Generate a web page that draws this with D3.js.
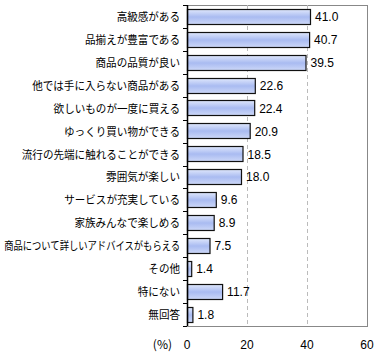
<!DOCTYPE html>
<html><head><meta charset="utf-8">
<script src="https://cdn.jsdelivr.net/npm/d3@7"></script>
<style>body{margin:0;background:#fff;}svg{display:block;}</style>
</head><body>
<svg id="chart" width="377" height="355"></svg>
<script>
const categories = ["高級感がある","品揃えが豊富である","商品の品質が良い","他では手に入らない商品がある","欲しいものが一度に買える","ゆっくり買い物ができる","流行の先端に触れることができる","雰囲気が楽しい","サービスが充実している","家族みんなで楽しめる","商品について詳しいアドバイスがもらえる","その他","特にない","無回答"];
const values = [41.0,40.7,39.5,22.6,22.4,20.9,18.5,18.0,9.6,8.9,7.5,1.4,11.7,1.8];
const xTicks = [0,20,40,60];
const unitLabel = "(%)";

(function(){
const svg = d3.select("#chart");
const pl = 187, pr = 367, pt = 5, pb = 326;
const x = d3.scaleLinear().domain([0,60]).range([pl,pr]);
const y = d3.scaleBand().domain(categories).range([pt,pb]).paddingInner(0.33).paddingOuter(0.16);

const defs = svg.append("defs");
const g = defs.append("linearGradient").attr("id","barGrad").attr("x1",0).attr("y1",0).attr("x2",0).attr("y2",1);
g.append("stop").attr("offset","0%").attr("stop-color","#dfe7fc");
g.append("stop").attr("offset","50%").attr("stop-color","#a9bbf1");
g.append("stop").attr("offset","100%").attr("stop-color","#cdd8f8");

svg.append("rect").attr("x",pl+0.5).attr("y",pt+0.5).attr("width",pr-pl).attr("height",pb-pt)
  .attr("fill","none").attr("stroke","#888").attr("stroke-width",1);

svg.selectAll("line.grid").data(xTicks.filter(d=>d>0 && d<60)).enter().append("line")
  .attr("x1",d=>Math.round(x(d))+0.5).attr("x2",d=>Math.round(x(d))+0.5)
  .attr("y1",pt).attr("y2",pb).attr("stroke","#bbb").attr("stroke-dasharray","4,3");

svg.selectAll("rect.bar").data(values).enter().append("rect")
  .attr("x",x(0)+0.5).attr("y",(d,i)=>Math.round(y(categories[i]))+0.5)
  .attr("width",d=>x(d)-x(0)).attr("height",Math.round(y.bandwidth()))
  .attr("fill","url(#barGrad)").attr("stroke","#111").attr("stroke-width",1.2);

svg.selectAll("text.val").data(values).enter().append("text")
  .attr("x",d=>x(d)+5).attr("y",(d,i)=>y(categories[i])+y.bandwidth()/2+4.5)
  .attr("font-family","Liberation Sans, Arial, sans-serif").attr("font-size",12).attr("fill","#000")
  .text(d=>d.toFixed(1));

svg.append("line").attr("x1",pl+0.5).attr("x2",pl+0.5).attr("y1",pt).attr("y2",pb)
  .attr("stroke","#000").attr("stroke-width",1.5);
const bounds = d3.range(categories.length+1).map(i=>pt + i*(pb-pt)/categories.length);
svg.selectAll("line.ytick").data(bounds).enter().append("line")
  .attr("x1",pl-4).attr("x2",pl).attr("y1",d=>Math.round(d)+0.5).attr("y2",d=>Math.round(d)+0.5)
  .attr("stroke","#000");
svg.append("line").attr("x1",pl).attr("x2",pr).attr("y1",pb+0.5).attr("y2",pb+0.5)
  .attr("stroke","#888");

svg.selectAll("text.cat").data(categories).enter().append("text")
  .attr("x",0).attr("y",0).attr("text-anchor","end")
  .attr("font-family","Noto Sans CJK JP, sans-serif").attr("font-size",11.5).attr("fill","#000")
  .text(d=>d)
  .each(function(d){
    const w = this.getComputedTextLength();
    const s = Math.min(0.92, 176/w);
    d3.select(this).attr("transform",`translate(180,${y(d)+y.bandwidth()/2+4.5}) scale(${s},1)`);
  });

svg.selectAll("text.xt").data(xTicks).enter().append("text")
  .attr("x",d=>x(d)).attr("y",349).attr("text-anchor","middle")
  .attr("font-family","Liberation Sans, Arial, sans-serif").attr("font-size",12).attr("fill","#000")
  .text(d=>d);
svg.append("text").attr("x",172).attr("y",349).attr("text-anchor","end")
  .attr("font-family","Noto Sans CJK JP, sans-serif").attr("font-size",12).attr("fill","#000").text(unitLabel);
})();
</script>
</body></html>
